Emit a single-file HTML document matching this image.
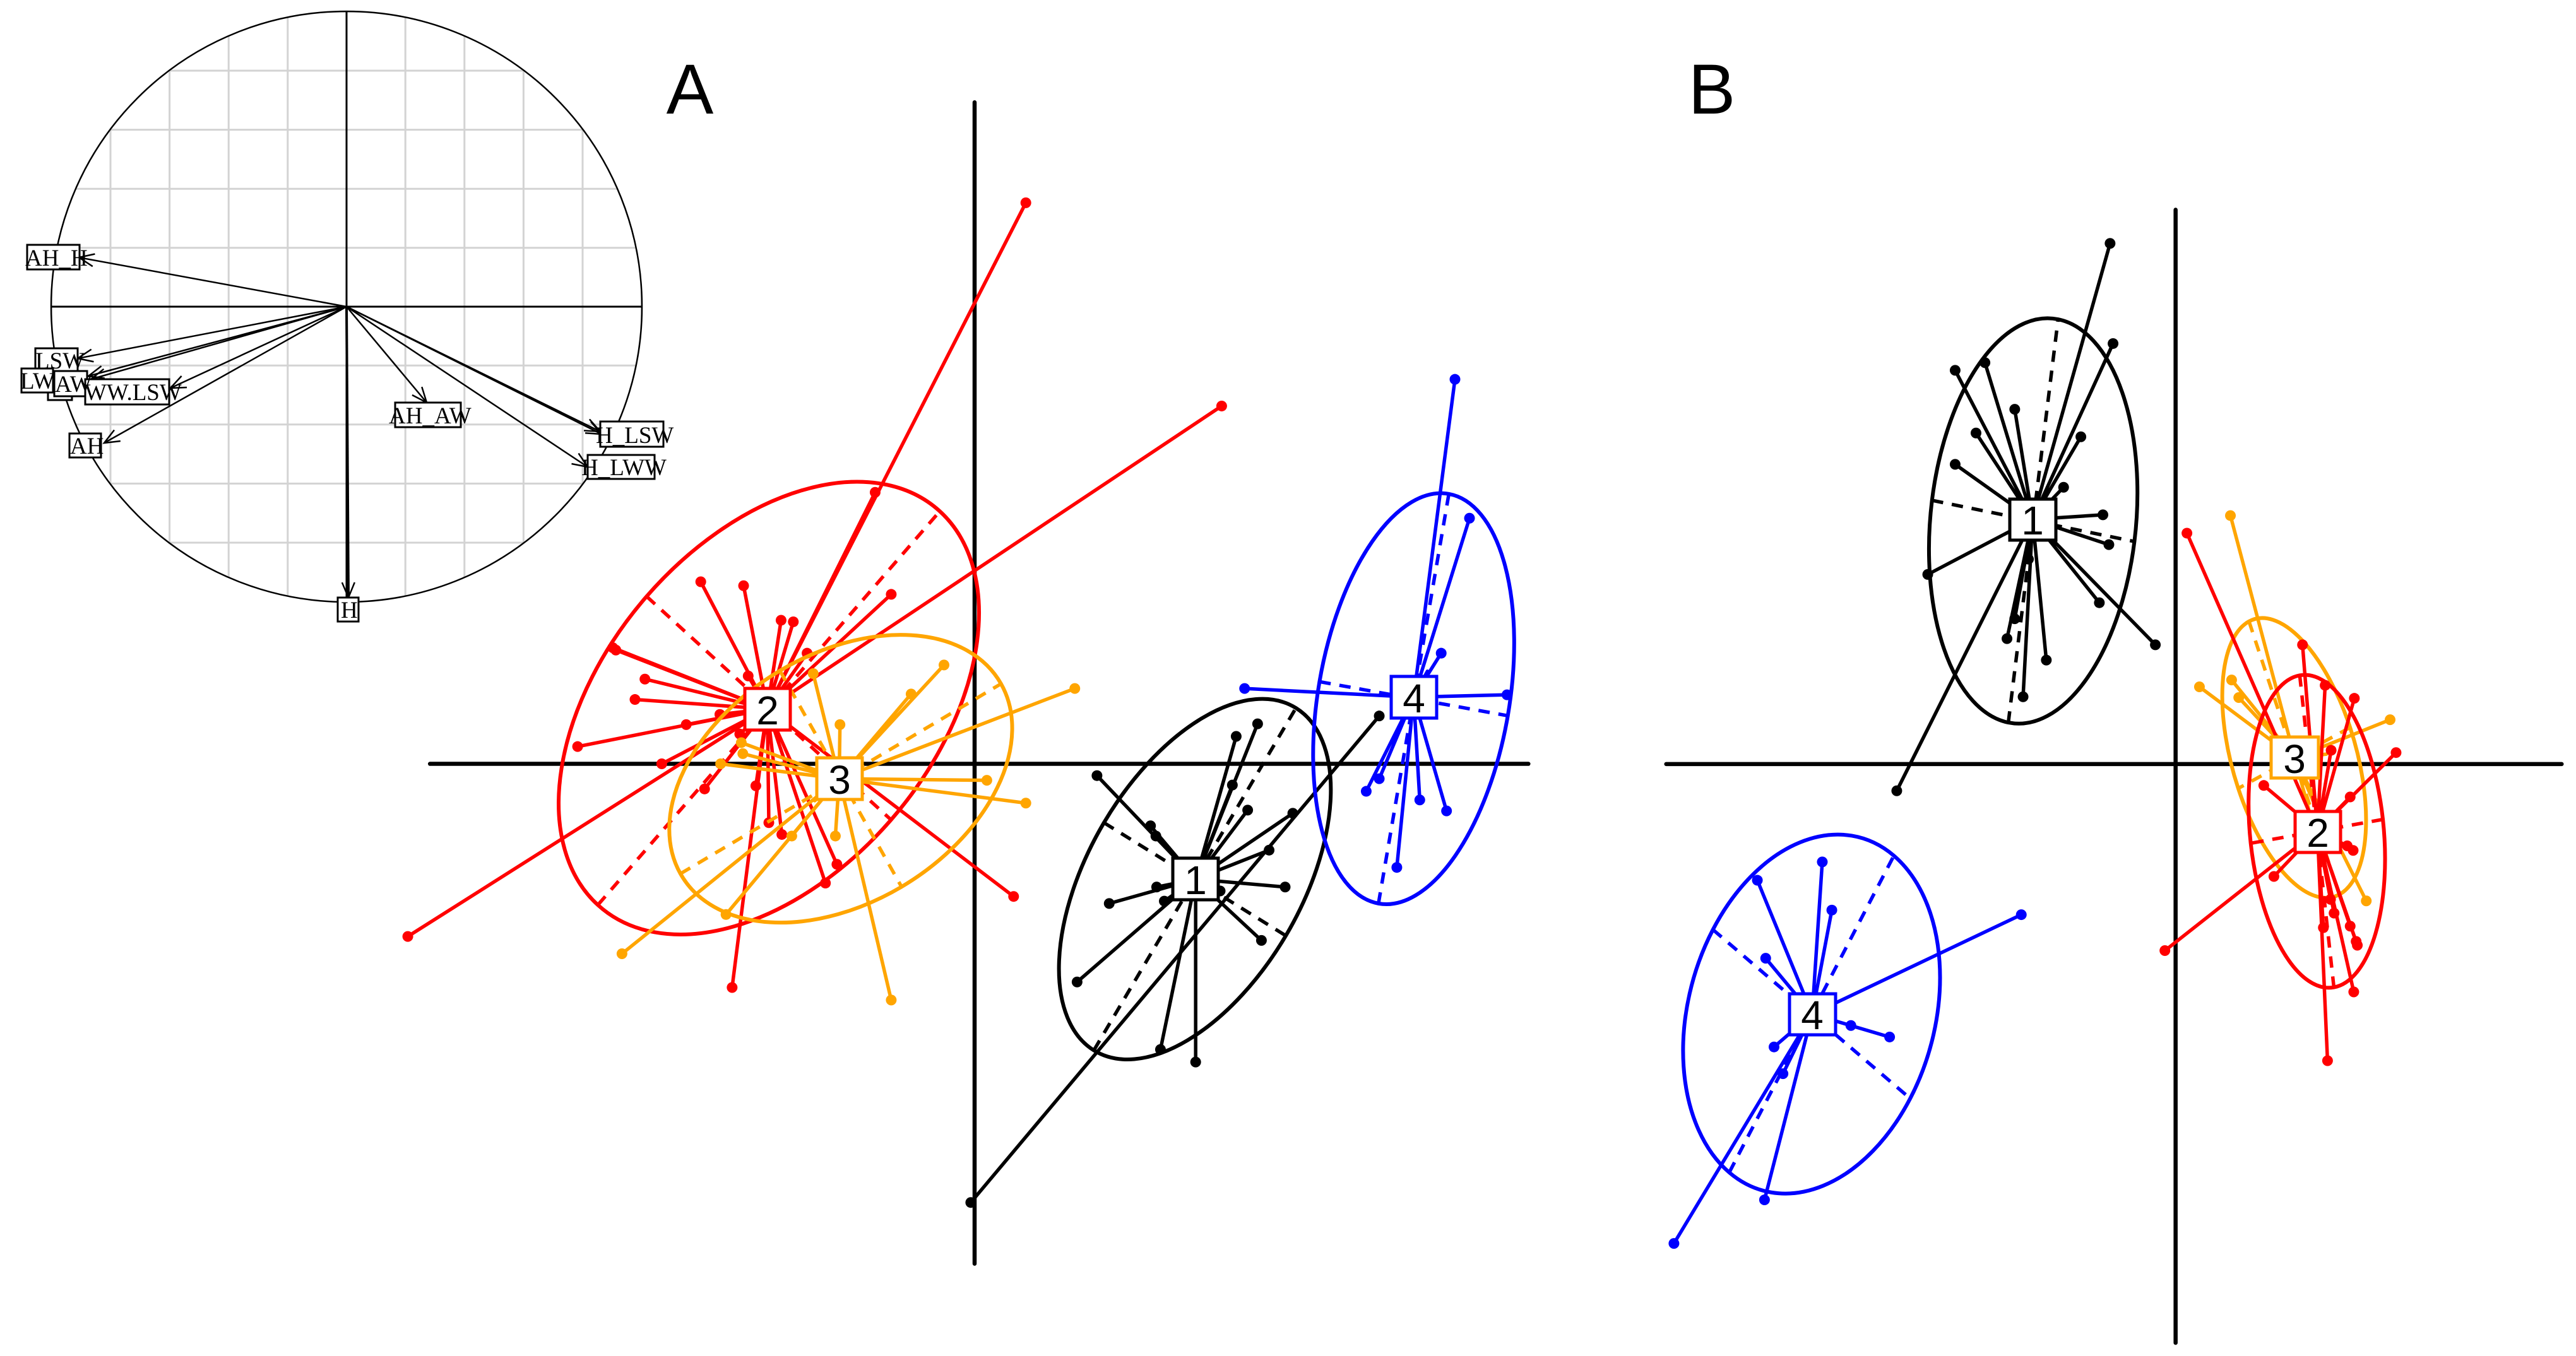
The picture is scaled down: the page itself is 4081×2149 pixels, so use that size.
<!DOCTYPE html>
<html><head><meta charset="utf-8"><style>
html,body{margin:0;padding:0;background:#fff;}
svg{display:block;}
.s{fill:none;vector-effect:non-scaling-stroke;stroke-width:5.5;stroke-linecap:round}
.d{fill:none;vector-effect:non-scaling-stroke;stroke-width:17;stroke-linecap:round}
.e{fill:none;vector-effect:non-scaling-stroke;stroke-width:6}
.ds{fill:none;vector-effect:non-scaling-stroke;stroke-width:5.5;stroke-dasharray:18 14}
.lab{font-family:"Liberation Sans",Arial,sans-serif;font-size:64px;text-anchor:middle;dominant-baseline:central;fill:#000}
.cl{font-family:"Liberation Serif","Times New Roman",serif;font-size:37px;fill:#000}
</style></head><body>
<svg width="4081" height="2149" viewBox="0 0 4081 2149" xmlns="http://www.w3.org/2000/svg">
<defs>
<clipPath id="cc"><ellipse cx="549" cy="486" rx="468" ry="468"/></clipPath>
<marker id="ar" markerWidth="30" markerHeight="30" refX="26" refY="12" orient="auto" markerUnits="userSpaceOnUse" viewBox="0 0 30 24">
<polyline points="2,2 26,12 2,22" fill="none" stroke="#000" stroke-width="2.5"/></marker>
</defs>
<rect width="4081" height="2149" fill="#fff"/>

<g clip-path="url(#cc)" stroke="#d3d3d3" stroke-width="3">
<path d="M81.4 0V1000M175 0V1000M268.6 0V1000M362.2 0V1000M455.8 0V1000M642.2 0V1000M735.8 0V1000M829.4 0V1000M923 0V1000M1016.6 0V1000M0 18.4H1100M0 112H1100M0 205.6H1100M0 299.2H1100M0 392.8H1100M0 579.2H1100M0 672.8H1100M0 766.4H1100M0 860H1100"/>
</g>
<ellipse cx="549" cy="486" rx="468" ry="468" fill="none" stroke="#000" stroke-width="2.5"/>
<path d="M81 486H1017M549 18V954" stroke="#000" stroke-width="3"/>
<g stroke="#000" stroke-width="2.5" marker-end="url(#ar)">
<line x1="549" y1="486" x2="125" y2="408"/>
<line x1="549" y1="486" x2="123" y2="568"/>
<line x1="549" y1="486" x2="140" y2="596"/>
<line x1="549" y1="486" x2="144" y2="601"/>
<line x1="549" y1="486" x2="270" y2="615"/>
<line x1="549" y1="486" x2="165" y2="702"/>
<line x1="549" y1="486" x2="676" y2="638"/>
<line x1="549" y1="486" x2="951" y2="684"/>
<line x1="549" y1="486" x2="953" y2="688"/>
<line x1="549" y1="486" x2="931" y2="740"/>
<line x1="549" y1="486" x2="552" y2="947" stroke-width="4"/>
</g>
<g fill="#fff" stroke="#000" stroke-width="3">
<rect x="43" y="388" width="83" height="39"/>
<rect x="56" y="552" width="67" height="38"/>
<rect x="76" y="598" width="38" height="36"/>
<rect x="34" y="584" width="50" height="38"/>
<rect x="86" y="588" width="52" height="40"/>
<rect x="135" y="601" width="133" height="40"/>
<rect x="110" y="687" width="50" height="38"/>
<rect x="626" y="638" width="104" height="39"/>
<rect x="951" y="668" width="100" height="40"/>
<rect x="931" y="721" width="106" height="38"/>
<rect x="535" y="947" width="33" height="38"/>
</g>
<g class="cl">
<text x="40" y="421">AH_H</text>
<text x="56" y="584">LSW</text>
<text x="32" y="616">LW</text>
<text x="87" y="621">AW</text>
<text x="134" y="634">WW.LSW</text>
<text x="111" y="719">AH</text>
<text x="616" y="671">AH_AW</text>
<text x="944" y="702">H_LSW</text>
<text x="921" y="753">H_LWW</text>
<text x="540" y="979">H</text>
</g>

<text x="1093" y="180" font-family="Liberation Sans,Arial,sans-serif" font-size="112" text-anchor="middle">A</text>
<text x="2712" y="180" font-family="Liberation Sans,Arial,sans-serif" font-size="112" text-anchor="middle">B</text>

<g transform="translate(600,100) scale(1.2118,1.2436)">
<path class="s" stroke="#000" style="stroke-width:6.5" d="M779 50V1530M67 893H1503"/>
<g stroke="#ff0000">
<path class="s" d="M508 823L846 178M508 823L1102 437M508 823L38 1113M508 823L649 547M508 823L421 661M508 823L477 666M508 823L526 710M508 823L542 712M508 823L670 677M508 823L306 745M508 823L310 748M508 823L348 785M508 823L335 811M508 823L260 871M508 823L370 893M508 823L402 843M508 823L446 830M508 823L426 925M508 823L472 855M508 823L493 921M508 823L510 968M508 823L527 983M508 823L584 1045M508 823L599 1021M508 823L462 1178M508 823L830 1062M508 823L560 752M508 823L483 781"/>
<path class="d" d="M846 178h.01M1102 437h.01M38 1113h.01M649 547h.01M421 661h.01M477 666h.01M526 710h.01M542 712h.01M670 677h.01M306 745h.01M310 748h.01M348 785h.01M335 811h.01M260 871h.01M370 893h.01M402 843h.01M446 830h.01M426 925h.01M472 855h.01M493 921h.01M510 968h.01M527 983h.01M584 1045h.01M599 1021h.01M462 1178h.01M830 1062h.01M560 752h.01M483 781h.01"/>
<g transform="translate(510,822) rotate(-48.3)"><ellipse class="e" rx="336" ry="214"/><path class="ds" d="M-336 0H336M0 -214V214"/></g>
</g>
<g stroke="#ffa500">
<path class="s" d="M602 912L739 767M602 912L910 797M602 912L696 804M602 912L795 914M602 912L846 943M602 912L603 843M602 912L568 778M602 912L474 866M602 912L476 880M602 912L447 893M602 912L540 985M602 912L597 985M602 912L670 1194M602 912L318 1135M602 912L454 1085M602 912L570 940"/>
<path class="d" d="M739 767h.01M910 797h.01M696 804h.01M795 914h.01M846 943h.01M603 843h.01M568 778h.01M474 866h.01M476 880h.01M447 893h.01M540 985h.01M597 985h.01M670 1194h.01M318 1135h.01M454 1085h.01"/>
<g transform="translate(604,912) rotate(-30)"><ellipse class="e" rx="242" ry="159"/><path class="ds" d="M-242 0H242M0 -159V159"/></g>
</g>
<g stroke="#000">
<path class="s" d="M1308 832L774 1452M1068 1040L939 908M1068 1040L1009 972M1068 1040L1016 985M1068 1040L1121 858M1068 1040L1149 842M1068 1040L1116 920M1068 1040L1136 952M1068 1040L1195 956M1068 1040L1164 1003M1068 1040L1185 1050M1068 1040L1154 1118M1068 1040L1100 1055M1068 1040L955 1071M1068 1040L1017 1050M1068 1040L1027 1068M1068 1040L913 1171M1068 1040L1022 1257M1068 1040L1068 1273"/>
<path class="d" d="M1308 832h.01M774 1452h.01M939 908h.01M1009 972h.01M1016 985h.01M1121 858h.01M1149 842h.01M1116 920h.01M1136 952h.01M1195 956h.01M1164 1003h.01M1185 1050h.01M1154 1118h.01M1100 1055h.01M955 1071h.01M1017 1050h.01M1027 1068h.01M913 1171h.01M1022 1257h.01M1068 1273h.01"/>
<g transform="translate(1067,1040) rotate(-58.8)"><ellipse class="e" rx="255" ry="139"/><path class="ds" d="M-255 0H255M0 -139V139"/></g>
</g>
<g stroke="#0000ff">
<path class="s" d="M1353 808L1407 403M1353 808L1426 580M1353 808L1389 752M1353 808L1475 805M1353 808L1132 797M1353 808L1291 928M1353 808L1308 912M1353 808L1331 1025M1353 808L1361 939M1353 808L1396 953M1353 808L1371 775"/>
<path class="d" d="M1407 403h.01M1426 580h.01M1389 752h.01M1475 805h.01M1132 797h.01M1291 928h.01M1308 912h.01M1331 1025h.01M1361 939h.01M1396 953h.01"/>
<g transform="translate(1353,810) rotate(-80)"><ellipse class="e" rx="265" ry="125"/><path class="ds" d="M-265 0H265M0 -125V125"/></g>
</g>
</g>

<g transform="translate(2600,250) scale(0.9439,1.2117)">
<path class="s" stroke="#000" style="stroke-width:6.5" d="M897 68V1550M42 793H1545"/>
<g stroke="#000">
<path class="s" d="M657 473L787 112M657 473L792 243M657 473L527 278M657 473L577 268M657 473L627 329M657 473L562 360M657 473L738 365M657 473L527 401M657 473L709 431M657 473L775 467M657 473L785 506M657 473L481 545M657 473L769 582M657 473L863 637M657 473L429 828M657 473L627 603M657 473L614 629M657 473L680 657M657 473L641 705M657 473L650 525"/>
<path class="d" d="M787 112h.01M792 243h.01M527 278h.01M577 268h.01M627 329h.01M562 360h.01M738 365h.01M527 401h.01M709 431h.01M775 467h.01M785 506h.01M481 545h.01M769 582h.01M863 637h.01M429 828h.01M627 603h.01M614 629h.01M680 657h.01M641 705h.01M650 525h.01"/>
<g transform="translate(658,475) rotate(-81)"><ellipse class="e" rx="267" ry="172"/><path class="ds" d="M-267 0H267M0 -172V172"/></g>
</g>
<g stroke="#0000ff">
<path class="s" d="M287 1120L55 1420M287 1120L207 1363M287 1120L195 945M287 1120L304 921M287 1120L320 984M287 1120L209 1047M287 1120L638 990M287 1120L352 1135M287 1120L417 1150M287 1120L223 1163M287 1120L238 1198"/>
<path class="d" d="M55 1420h.01M207 1363h.01M195 945h.01M304 921h.01M320 984h.01M209 1047h.01M638 990h.01M352 1135h.01M417 1150h.01M223 1163h.01M238 1198h.01"/>
<g transform="translate(286,1120) rotate(-56.3)"><ellipse class="e" rx="249" ry="199"/><path class="ds" d="M-249 0H249M0 -199V199"/></g>
</g>
<g stroke="#ffa500">
<path class="s" d="M1097 785L989 468M1097 785L937 692M1097 785L991 683M1097 785L1003 706M1097 785L1257 735M1097 785L1217 972M1097 785L1150 780M1097 785L1130 880M1097 785L1160 900"/>
<path class="d" d="M989 468h.01M937 692h.01M991 683h.01M1003 706h.01M1257 735h.01M1217 972h.01"/>
<g transform="translate(1096,785) rotate(67)"><ellipse class="e" rx="194" ry="102"/><path class="ds" d="M-194 0H194M0 -102V102"/></g>
</g>
<g stroke="#ff0000">
<path class="s" d="M1135 880L916 491M1135 880L1110 637M1135 880L1148 690M1135 880L1197 707M1135 880L1267 778M1135 880L1045 821M1135 880L1190 836M1135 880L1062 940M1135 880L879 1037M1135 880L1152 1181M1135 880L1196 1091M1135 880L1202 1030M1135 880L1200 1025M1135 880L1190 1005M1135 880L1163 988M1135 880L1145 1007M1135 880L1157 970M1135 880L1185 900M1135 880L1195 906M1135 880L1158 775"/>
<path class="d" d="M916 491h.01M1110 637h.01M1148 690h.01M1197 707h.01M1267 778h.01M1045 821h.01M1190 836h.01M1062 940h.01M879 1037h.01M1152 1181h.01M1196 1091h.01M1202 1030h.01M1200 1025h.01M1190 1005h.01M1163 988h.01M1145 1007h.01M1157 970h.01M1185 900h.01M1195 906h.01M1158 775h.01"/>
<g transform="translate(1134,881) rotate(82)"><ellipse class="e" rx="206" ry="112"/><path class="ds" d="M-206 0H206M0 -112V112"/></g>
</g>
</g>

<g stroke-width="5" fill="#fff">
<rect x="1180" y="1091" width="72" height="66" stroke="#ff0000"/>
<rect x="1294" y="1201" width="72" height="66" stroke="#ffa500"/>
<rect x="1858" y="1360" width="72" height="66" stroke="#000"/>
<rect x="2204" y="1072" width="72" height="66" stroke="#0000ff"/>
<rect x="3184" y="791" width="73" height="65" stroke="#000"/>
<rect x="2835" y="1575" width="73" height="65" stroke="#0000ff"/>
<rect x="3598" y="1168" width="75" height="65" stroke="#ffa500"/>
<rect x="3636" y="1286" width="72" height="65" stroke="#ff0000"/>
</g>
<g class="lab">
<text x="1216" y="1126">2</text>
<text x="1330" y="1236">3</text>
<text x="1894" y="1395">1</text>
<text x="2240" y="1107">4</text>
<text x="3220" y="825">1</text>
<text x="2871" y="1609">4</text>
<text x="3635" y="1203">3</text>
<text x="3672" y="1320">2</text>
</g>
</svg>
</body></html>
